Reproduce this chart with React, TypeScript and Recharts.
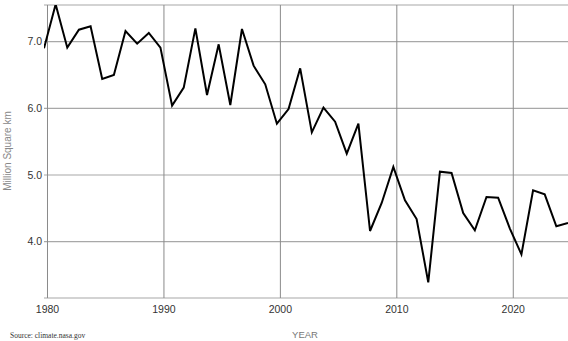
import { LineChart, Line, XAxis, YAxis, CartesianGrid, ReferenceLine } from 'recharts';

// Arctic sea ice minimum extent (September), million km²
const years = [
  1979, 1980, 1981, 1982, 1983, 1984, 1985, 1986, 1987, 1988, 1989, 1990, 1991, 1992, 1993, 1994,
  1995, 1996, 1997, 1998, 1999, 2000, 2001, 2002, 2003, 2004, 2005, 2006, 2007, 2008, 2009, 2010,
  2011, 2012, 2013, 2014, 2015, 2016, 2017, 2018, 2019, 2020, 2021, 2022, 2023, 2024,
];
const extent = [
  6.9, 7.56, 6.91, 7.18, 7.23, 6.44, 6.5, 7.16, 6.97, 7.13, 6.91, 6.04, 6.31, 7.2, 6.2, 6.96,
  6.05, 7.19, 6.64, 6.36, 5.77, 5.99, 6.6, 5.64, 6.01, 5.8, 5.32, 5.77, 4.16, 4.58, 5.12, 4.62,
  4.34, 3.39, 5.05, 5.03, 4.43, 4.17, 4.67, 4.66, 4.2, 3.81, 4.77, 4.71, 4.23, 4.28,
];
const yearTicks = [1980, 1990, 2000, 2010, 2020];
const valueTicks = [4, 5, 6, 7];

// points sit at mid-September of each year
const SEPT = 0.7;
const data = years.map((y, i) => ({ t: y + SEPT, v: extent[i] }));

export default function App() {
  return (
    <div style={{ position: 'absolute', left: 0, top: 0, width: 568, height: 341, background: '#fff', fontFamily: 'Arial, "Liberation Sans", sans-serif' }}>
      <LineChart width={568} height={341} data={data} margin={{ top: 5, right: 0, bottom: 13, left: 0 }}>
        <CartesianGrid horizontal={true} vertical={false} stroke="#a8a8a8" strokeWidth={1.2} />
        {yearTicks.map((y) => (
          <ReferenceLine key={y} x={y} stroke="#8a8a8a" strokeWidth={1} />
        ))}
        <XAxis
          dataKey="t"
          type="number"
          domain={[1979 + SEPT, 2024 + SEPT]}
          ticks={yearTicks}
          allowDataOverflow
          axisLine={false}
          tickLine={false}
          tickSize={6}
          tickMargin={2}
          height={30}
          tick={{ fontSize: 10.5, fill: '#333' }}
        />
        <YAxis
          type="number"
          domain={[3.155, 7.55]}
          ticks={valueTicks}
          allowDataOverflow
          axisLine={false}
          tickLine={false}
          tickSize={2}
          tickMargin={0}
          width={44}
          tickFormatter={(v: number) => v.toFixed(1)}
          tick={{ fontSize: 10.5, fill: '#333' }}
        />
        <Line type="linear" dataKey="v" stroke="#000" strokeWidth={2} dot={false} isAnimationActive={false} />
      </LineChart>
      <svg width={568} height={341} style={{ position: 'absolute', left: 0, top: 0, pointerEvents: 'none' }}>
        <text x={11} y={151} transform="rotate(-90 11 151)" textAnchor="middle" fontSize={10} fill="#888">
          Million Square km
        </text>
        <text x={305} y={338} textAnchor="middle" fontSize={9.5} fill="#777">
          YEAR
        </text>
        <text x={10} y={338} fontSize={7.5} fill="#333" fontFamily='"Liberation Serif", "Times New Roman", serif'>
          Source: climate.nasa.gov
        </text>
      </svg>
    </div>
  );
}
